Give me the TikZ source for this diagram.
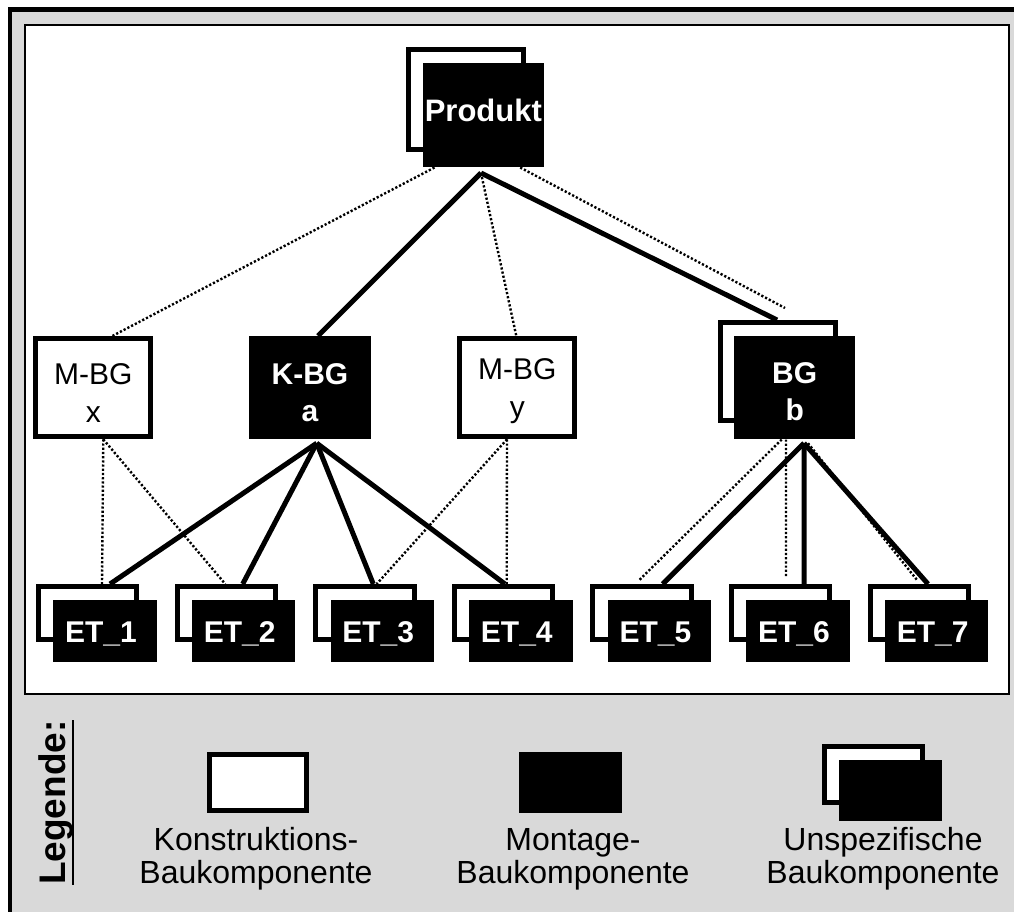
\documentclass[tikz,border=0pt]{standalone}
\usepackage{fontspec}
\setmainfont{Liberation Sans}
\usetikzlibrary{calc}
\definecolor{framegray}{RGB}{217,217,217}
\newsavebox\legendbox
\newcommand\legendline[1]{\sbox\legendbox{#1}\rlap{\rule[-9pt]{\wd\legendbox}{2pt}}\usebox\legendbox}
\begin{document}
\begin{tikzpicture}[x=1pt,y=-1pt,
  wbox/.style={draw=black,line width=5pt,fill=white,inner sep=0pt,rectangle},
  bbox/.style={fill=black,draw=none,inner sep=0pt,rectangle,text=white},
  lvtwo/.style={minimum width=115pt,minimum height=98.3pt},
  lbl/.style={inner sep=0pt,align=center,font=\fontsize{30}{38}\selectfont},
  blbl/.style={inner sep=0pt,align=center,text=white,font=\bfseries\fontsize{30}{37}\selectfont},
  etback/.style={wbox,minimum width=98.3pt,minimum height=52.7pt},
  etfront/.style={bbox,minimum width=103.4pt,minimum height=61.7pt,
    font=\bfseries\fontsize{30}{36}\selectfont,text height=24pt,text depth=0pt},
  leglbl/.style={inner sep=0pt,align=center,font=\fontsize{32}{33}\selectfont},
  link/.style={line width=5pt},
  dlink/.style={line width=2.4pt,dash pattern=on 2.2pt off 2pt}]

\useasboundingbox (0,0) rectangle (1014,912);
\clip (0,0) rectangle (1014,912);

% frame and drawing panel
\fill[white] (0,0) rectangle (1014,912);
\fill[framegray] (10,10) rectangle (1040,940);
\draw[line width=4.5pt] (9.75,940) -- (9.75,9.75) -- (1040,9.75);
\draw[line width=2pt,fill=white] (25,25) rectangle (1009,694.3);

% product
\node[wbox,minimum width=115.3pt,minimum height=99.4pt] (prod-back) at (465.85,99.5) {};
\node[bbox,minimum width=121.3pt,minimum height=104pt,
  font=\bfseries\fontsize{31}{36}\selectfont,text height=21.3pt,text depth=8.5pt]
  (prod) at (483.35,115.3) {Produkt};

% assemblies
\node[wbox,lvtwo] (mx) at (93.3,387.65) {};
\node[lbl] (mx-text) at (93.3,393.4) {M-BG\\x};
\node[bbox,minimum width=121.4pt,minimum height=103.3pt] (kbga) at (310,387.65) {};
\node[blbl] (kbga-text) at (310,393) {K-BG\\a};
\node[wbox,lvtwo] (mby) at (517.3,387.65) {};
\node[lbl] (mby-text) at (517.3,391) {M-BG\\y};
\node[wbox,minimum width=114.4pt,minimum height=98.3pt] (bgb-back) at (778,371.65) {};
\node[bbox,minimum width=120.7pt,minimum height=103.3pt] (bgb) at (794.7,387.65) {};
\node[blbl] (bgb-text) at (794.7,392) {BG\\b};

% single parts
\foreach \i in {1,...,7}{
  \pgfmathsetmacro\fx{105+138.6*(\i-1)}
  \pgfmathsetmacro\bx{\fx-17.35}
  \node[etback] (et\i-back) at (\bx,612.85) {};
  \node[etfront] (et\i) at (\fx,630.85) {ET\_\i\kern8pt};
}

% links from the product
\coordinate (prod-hub) at (481,173);
\draw[link] (prod-hub) -- ([xshift=8pt]kbga.north);
\draw[link] (prod-hub) -- ([xshift=-1pt]bgb-back.north);
\draw[dlink] ([xshift=12pt]prod.south west) -- ([xshift=19pt]mx.north);
\draw[dlink] (prod-hub) -- ([xshift=-1pt]mby.north);
\draw[dlink] ([xshift=-24pt]prod.south east) -- ([xshift=7pt,yshift=12pt]bgb-back.north);

% links from M-BG x
\draw[dlink] ([xshift=10pt]mx.south) -- ([xshift=14.35pt]et1-back.north);
\draw[dlink] ([xshift=10pt]mx.south) -- ([xshift=-1pt]et2-back.north);

% links from K-BG a
\coordinate (kbga-hub) at ([xshift=6.7pt,yshift=-3.7pt]kbga.south);
\draw[link] (kbga-hub) -- ([xshift=22.35pt]et1-back.north);
\draw[link] (kbga-hub) -- ([xshift=16.45pt]et2-back.north);
\draw[link] (kbga-hub) -- ([xshift=8.45pt]et3-back.north);
\draw[link] (kbga-hub) -- ([xshift=1.55pt]et4-back.north);

% links from M-BG y
\draw[dlink] ([xshift=-10.3pt]mby.south) -- ([xshift=11.85pt]et3-back.north);
\draw[dlink] ([xshift=-10.3pt]mby.south) -- ([xshift=3.25pt]et4-back.north);

% links from BG b
\coordinate (bgb-hub) at ([xshift=9.3pt,yshift=-3.7pt]bgb.south);
\draw[link] (bgb-hub) -- ([xshift=20.65pt]et5-back.north);
\draw[link] (bgb-hub) -- ([xshift=23.35pt]et6-back.north);
\draw[link] (bgb-hub) -- ([xshift=8.75pt]et7-back.north);
\draw[dlink] ([xshift=-13pt]bgb.south) -- ([xshift=-2.75pt,yshift=4pt]et5-back.north);
\draw[dlink] ([xshift=-8.7pt]bgb.south) -- ([xshift=5.35pt,yshift=6pt]et6-back.north);
\draw[dlink] ([xshift=13.3pt,yshift=-3.7pt]bgb.south) -- ([xshift=-2.25pt,yshift=4pt]et7-back.north);

% legend
\node[rotate=90,anchor=base west,inner sep=0pt,font=\bfseries\fontsize{37}{42}\selectfont]
  (legend-title) at (65,885) {\legendline{Legende:}};
\node[wbox,minimum width=97.2pt,minimum height=56pt] (leg-k) at (258.1,782.2) {};
\node[bbox,minimum width=102.9pt,minimum height=61pt] (leg-m) at (570.85,782.2) {};
\node[wbox,minimum width=98.5pt,minimum height=56pt] (leg-u-back) at (873.25,774.5) {};
\node[bbox,minimum width=103.4pt,minimum height=60.7pt] (leg-u) at (890.7,790.35) {};
\node[leglbl] (leg-k-text) at (256,859.2) {Konstruktions-\\Baukomponente};
\node[leglbl] (leg-m-text) at (573,859.2) {Montage-\\Baukomponente};
\node[leglbl] (leg-u-text) at (883,859.2) {Unspezifische\\Baukomponente};
\end{tikzpicture}
\end{document}
